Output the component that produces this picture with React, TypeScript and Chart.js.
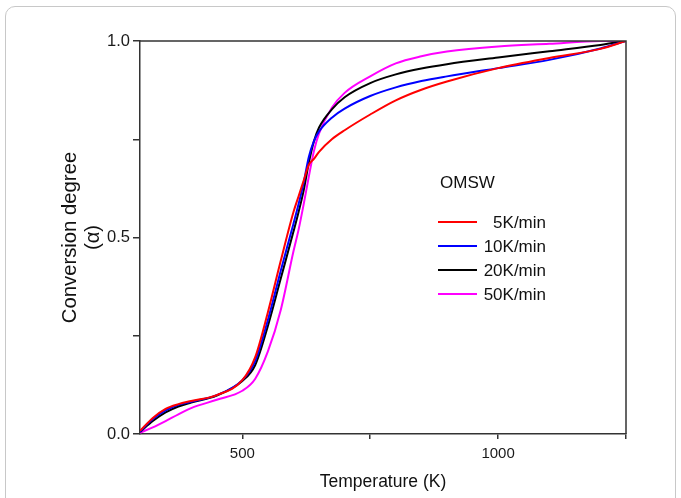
import React, { useEffect, useRef } from 'react';
import { Chart, registerables } from 'chart.js';

Chart.register(...registerables);

const FONT = '"Liberation Sans", Arial, Helvetica, sans-serif';

// Temperature grid (K)
const temperatures = [300, 325, 350, 375, 400, 450, 500, 525, 550, 575, 600, 610, 620, 630, 640, 650, 675, 700, 750, 800, 850, 900, 1000, 1100, 1200, 1250];

// Conversion degree for each heating rate
const alpha5 = [0.008, 0.041, 0.064, 0.076, 0.084, 0.099, 0.137, 0.195, 0.31, 0.44, 0.565, 0.605, 0.645, 0.685, 0.70, 0.718, 0.75, 0.773, 0.813, 0.849, 0.876, 0.897, 0.931, 0.957, 0.98, 1.0];
const alpha10 = [0.006, 0.038, 0.060, 0.074, 0.082, 0.099, 0.137, 0.185, 0.29, 0.415, 0.535, 0.585, 0.64, 0.705, 0.745, 0.77, 0.805, 0.828, 0.86, 0.882, 0.898, 0.91, 0.931, 0.952, 0.981, 1.0];
const alpha20 = [0.005, 0.033, 0.055, 0.070, 0.080, 0.098, 0.135, 0.175, 0.275, 0.395, 0.515, 0.565, 0.62, 0.69, 0.745, 0.78, 0.826, 0.857, 0.893, 0.915, 0.93, 0.941, 0.958, 0.974, 0.99, 1.0];
const alpha50 = [0.003, 0.017, 0.033, 0.050, 0.066, 0.087, 0.11, 0.14, 0.21, 0.315, 0.465, 0.52, 0.585, 0.655, 0.72, 0.765, 0.83, 0.868, 0.91, 0.943, 0.961, 0.973, 0.986, 0.993, 1.0, 1.0];

const seriesLabels = ['5K/min', '10K/min', '20K/min', '50K/min'];
const seriesColors = ['#ff0000', '#0000ff', '#000000', '#ff00ff'];
const legendTitle = 'OMSW';

const xTickValues = [500, 750, 1000, 1250];
const xLabeledTicks = [500, 1000];
const yTickValues = [0, 0.25, 0.5, 0.75, 1];
const yLabeledTicks = [0, 0.5, 1];

const xTitle = 'Temperature (K)';
const yTitle = ['Conversion degree', '(\u03B1)'];

const AXIS_COLOR = '#333333';

const framePlugin = {
  id: 'frame',
  afterDraw(chart: any) {
    const { ctx, chartArea } = chart;
    ctx.save();
    ctx.strokeStyle = AXIS_COLOR;
    ctx.lineWidth = 1.5;
    ctx.beginPath();
    ctx.moveTo(chartArea.left, chartArea.top);
    ctx.lineTo(chartArea.right, chartArea.top);
    ctx.lineTo(chartArea.right, chartArea.bottom);
    ctx.stroke();
    ctx.restore();
  },
};

const legendPlugin = {
  id: 'insideLegend',
  afterDraw(chart: any) {
    const { ctx, chartArea } = chart;
    const x0 = chartArea.left + 298;
    const y0 = chartArea.top + 142;
    ctx.save();
    ctx.font = `17px ${FONT}`;
    ctx.fillStyle = '#111';
    ctx.textBaseline = 'middle';
    ctx.textAlign = 'left';
    ctx.fillText(legendTitle, x0 + 2, y0);
    chart.data.datasets.forEach((ds: any, i: number) => {
      const y = y0 + 39 + i * 24;
      ctx.strokeStyle = ds.borderColor;
      ctx.lineWidth = 2;
      ctx.beginPath();
      ctx.moveTo(x0, y);
      ctx.lineTo(x0 + 39, y);
      ctx.stroke();
      ctx.fillStyle = '#111';
      ctx.textAlign = 'right';
      ctx.fillText(ds.label, x0 + 108, y + 1);
    });
    ctx.restore();
  },
};

export default function App() {
  const canvasRef = useRef<HTMLCanvasElement | null>(null);

  useEffect(() => {
    if (!canvasRef.current) return;
    Chart.defaults.font.family = FONT;
    const seriesValues = [alpha5, alpha10, alpha20, alpha50];
    const datasets = seriesValues.map((vals, i) => ({
      label: seriesLabels[i],
      data: temperatures.map((t, j) => ({ x: t, y: vals[j] })),
      borderColor: seriesColors[i],
      backgroundColor: seriesColors[i],
      borderWidth: 2,
      pointRadius: 0,
      cubicInterpolationMode: 'monotone' as const,
      fill: false,
    }));

    const chart = new Chart(canvasRef.current, {
      type: 'line',
      data: { datasets },
      options: {
        animation: false,
        responsive: false,
        maintainAspectRatio: false,
        layout: { padding: { left: 0, top: 41, right: 55, bottom: 0 } },
        plugins: {
          legend: { display: false },
          tooltip: { enabled: false },
        },
        scales: {
          x: {
            type: 'linear',
            min: 300,
            max: 1250,
            afterBuildTicks: (scale: any) => {
              scale.ticks = xTickValues.map((v) => ({ value: v }));
            },
            afterFit: (scale: any) => {
              scale.height = 64;
            },
            ticks: {
              autoSkip: false,
              maxRotation: 0,
              padding: 6,
              color: '#1a1a1a',
              font: { size: 15, family: FONT },
              callback: (v: any) => (xLabeledTicks.includes(Number(v)) ? String(v) : ''),
            },
            grid: {
              display: true,
              drawOnChartArea: false,
              drawTicks: true,
              tickLength: 5,
              color: AXIS_COLOR,
              lineWidth: 1.5,
            },
            border: { display: true, color: AXIS_COLOR, width: 1.5 },
            title: {
              display: true,
              text: xTitle,
              color: '#111',
              font: { size: 17.5, family: FONT, lineHeight: 1.2 },
              padding: { top: 0, bottom: 5 },
            },
          },
          y: {
            type: 'linear',
            min: 0,
            max: 1,
            afterBuildTicks: (scale: any) => {
              scale.ticks = yTickValues.map((v) => ({ value: v }));
            },
            afterFit: (scale: any) => {
              scale.width = 140;
            },
            ticks: {
              autoSkip: false,
              padding: 3,
              color: '#1a1a1a',
              font: { size: 16.5, family: FONT },
              callback: (v: any) => (yLabeledTicks.includes(Number(v)) ? Number(v).toFixed(1) : ''),
            },
            grid: {
              display: true,
              drawOnChartArea: false,
              drawTicks: true,
              tickLength: 7,
              color: AXIS_COLOR,
              lineWidth: 1.5,
            },
            border: { display: true, color: AXIS_COLOR, width: 1.5 },
            title: {
              display: true,
              text: yTitle,
              color: '#111',
              font: { size: 20.3, family: FONT, lineHeight: 1.15 },
              padding: { top: 58.3, bottom: 0 },
            },
          },
        },
      },
      plugins: [framePlugin, legendPlugin],
    });

    return () => chart.destroy();
  }, []);

  return (
    <div
      style={{
        position: 'absolute',
        left: 0,
        top: 0,
        width: 681,
        height: 498,
        overflow: 'hidden',
        background: '#fff',
      }}
    >
      <div
        style={{
          position: 'absolute',
          left: 5,
          top: 6,
          width: 671,
          height: 530,
          border: '1px solid #c8c8c8',
          borderRadius: 10,
          boxSizing: 'border-box',
        }}
      />
      <canvas
        ref={canvasRef}
        width={681}
        height={498}
        style={{ position: 'absolute', left: 0, top: 0, width: 681, height: 498 }}
      />
    </div>
  );
}
